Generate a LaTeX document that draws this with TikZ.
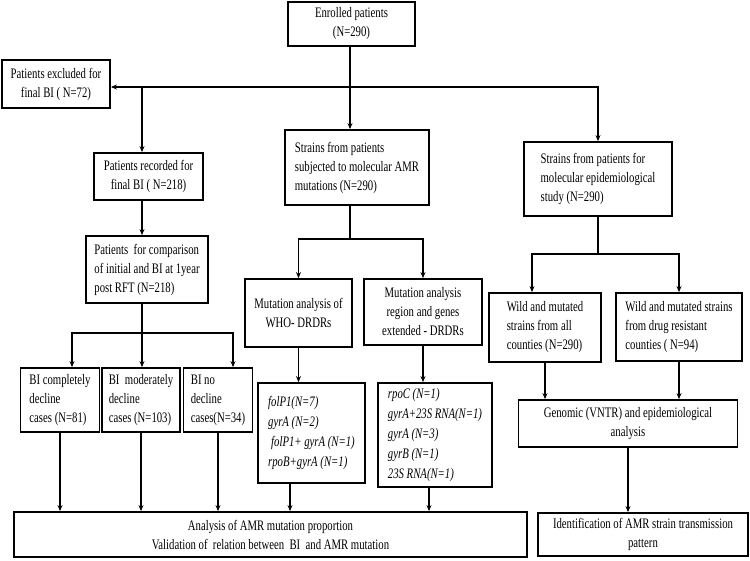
\documentclass[tikz,border=0pt]{standalone}
\usepackage{fontspec}
\setmainfont{Liberation Serif}[FakeStretch=0.74]
\usetikzlibrary{arrows.meta}

\begin{document}
\begin{tikzpicture}[x=1pt, y=-1pt,
    box/.style={draw, line width=1.8pt, align=center, inner xsep=4pt,
                font=\fontsize{14.5}{19}\selectfont},
    lbox/.style={box, align=left},
    gene/.style={lbox, font=\fontsize{14.5}{20}\selectfont\itshape},
    flow/.style={-{Stealth[length=6pt,width=5pt]}, line width=1.8pt},
    link/.style={line width=1.8pt},
]
    \useasboundingbox (0,0) rectangle (750,560);

    \node[box, minimum width=127pt, minimum height=44pt] (enrol) at (351.5,24) {Enrolled patients\\(N=290)};
    \node[box, minimum width=108pt, minimum height=48pt] (excl) at (56,84) {Patients excluded for\\final BI ( N=72)};
    \node[box, minimum width=109pt, minimum height=47pt] (recd) at (148.5,176.5) {Patients recorded for\\final BI ( N=218)};
    \node[lbox, minimum width=144pt, minimum height=75pt] (amr) at (357,167.5) {Strains from patients\\subjected to molecular AMR\\mutations (N=290)};
    \node[lbox, minimum width=148pt, minimum height=74pt] (epi) at (598,179) {Strains from patients for\\molecular epidemiological\\study (N=290)};
    \node[lbox, minimum width=122pt, minimum height=67pt] (comp) at (147,269.5) {Patients\ \ for comparison\\of initial and BI at 1year\\post RFT (N=218)};

    \node[box, minimum width=107pt, minimum height=68pt] (who) at (298.5,313) {Mutation analysis of\\WHO- DRDRs};
    \node[box, minimum width=118pt, minimum height=66pt] (ext) at (423,312) {Mutation analysis\\region and genes\\extended - DRDRs};
    \node[lbox, minimum width=112pt, minimum height=69pt] (wall) at (545,327.5) {Wild and mutated\\strains from all\\counties (N=290)};
    \node[lbox, minimum width=126pt, minimum height=68pt] (wdrug) at (679,327) {Wild and mutated strains\\from drug resistant\\counties ( N=94)};

    \node[lbox, minimum width=79pt, minimum height=64pt] (bi1) at (60,400) {BI completely\\decline\\cases (N=81)};
    \node[lbox, minimum width=78pt, minimum height=64pt] (bi2) at (141,400) {BI\ \ moderately\\decline\\cases (N=103)};
    \node[lbox, minimum width=69pt, minimum height=64pt] (bi3) at (218,400) {BI no\\decline\\cases(N=34)};
    \node[gene, minimum width=107pt, minimum height=100pt] (gene1) at (311.5,433) {folP1(N=7)\\gyrA (N=2)\\\hspace{3pt}folP1+ gyrA (N=1)\\rpoB+gyrA (N=1)};
    \node[gene, minimum width=114pt, minimum height=104pt] (gene2) at (435,435) {rpoC (N=1)\\gyrA+23S RNA(N=1)\\gyrA (N=3)\\gyrB (N=1)\\23S RNA(N=1)};
    \node[box, minimum width=219pt, minimum height=47pt] (geno) at (628,423.5) {Genomic (VNTR) and epidemiological\\analysis};

    \node[box, minimum width=513pt, minimum height=45pt] (anal) at (270.5,534.5) {Analysis of AMR mutation proportion\\Validation of\ \ relation between\ \ BI\ \ and AMR mutation};
    \node[box, minimum width=210pt, minimum height=43pt] (ident) at (643,534.5) {Identification of AMR strain transmission\\pattern};

    \coordinate (hub) at (350,87);
    \coordinate (lcol) at (142,0);
    \coordinate (cb) at (142,333);
    \coordinate (ab) at (350,239);
    \coordinate (eb) at (598,254);
    \coordinate (g1out) at ([xshift=-21.5pt]gene1.south);
    \coordinate (g2out) at ([xshift=-6pt]gene2.south);

    \draw[flow] (enrol.south -| hub) -- (amr.north -| hub);
    \draw[flow] (hub) -- (hub -| excl.east);
    \draw[flow] (hub) -| (epi.north);
    \draw[flow] (hub -| lcol) -- (recd.north -| lcol);
    \draw[flow] (recd.south -| lcol) -- (comp.north -| lcol);

    \draw[flow] (comp.south -| lcol) -- (bi2.north -| lcol);
    \draw[flow] (cb) -| ([xshift=12pt]bi1.north);
    \draw[flow] (cb) -| ([xshift=15pt]bi3.north);
    \foreach \b in {bi1,bi2,bi3}
        \draw[flow] (\b.south) -- (\b.south |- anal.north);

    \draw[link] (amr.south -| ab) -- (ab);
    \draw[flow] (ab) -| (who.north);
    \draw[flow] (ab) -| (ext.north);
    \draw[flow] (who.south) -- (who.south |- gene1.north);
    \draw[flow] (ext.south) -- (ext.south |- gene2.north);
    \draw[flow] (g1out) -- (g1out |- anal.north);
    \draw[flow] (g2out) -- (g2out |- anal.north);

    \draw[link] (epi.south) -- (eb);
    \draw[flow] (eb) -| ([xshift=-13pt]wall.north);
    \draw[flow] (eb) -| (wdrug.north);
    \draw[flow] (wall.south) -- (wall.south |- geno.north);
    \draw[flow] (wdrug.south) -- (wdrug.south |- geno.north);
    \draw[flow] (geno.south) -- (geno.south |- ident.north);

\end{tikzpicture}
\end{document}
